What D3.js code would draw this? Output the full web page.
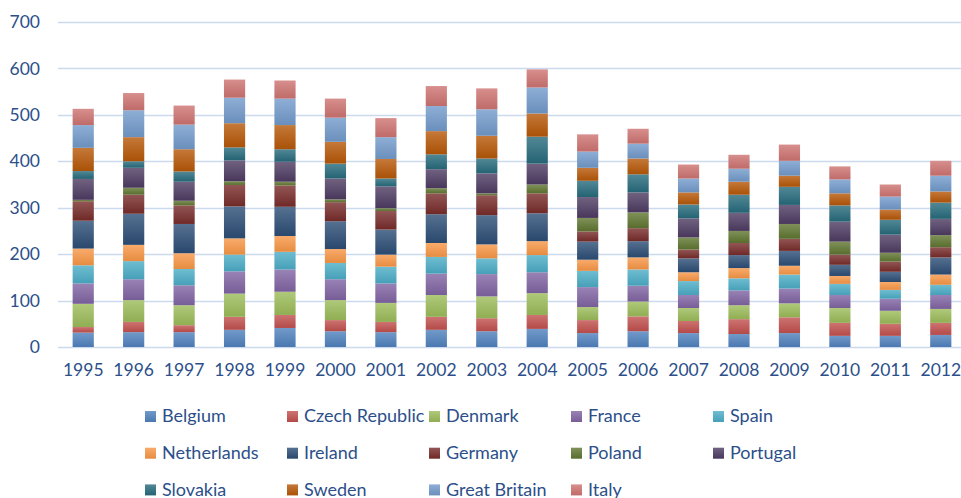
<!DOCTYPE html>
<html>
<head>
<meta charset="utf-8">
<script src="https://d3js.org/d3.v7.min.js"></script>
<style>
  body { margin: 0; background: #fff; }
  svg text { font-family: Lato, "Open Sans", sans-serif; fill: #2c4f8a; }
</style>
</head>
<body>
<div id="chart"></div>
<script>
// years on the x axis
var years = ["1995","1996","1997","1998","1999","2000","2001","2002","2003","2004","2005","2006","2007","2008","2009","2010","2011","2012"]

// one array per country (stack order bottom -> top)
var belgium     = [31, 32, 32, 37, 41, 34, 32, 37, 34, 39, 30, 34, 30, 28, 30, 24, 24, 26]
var czech       = [12, 22, 15, 28, 28, 24, 22, 28, 28, 30, 28, 32, 26, 32, 34, 28, 26, 26]
var denmark     = [50, 47, 43, 50, 50, 43, 41, 47, 47, 47, 28, 32, 28, 30, 30, 32, 28, 30]
var france      = [44, 45, 43, 48, 48, 45, 42, 46, 48, 45, 43, 34, 28, 32, 32, 28, 26, 30]
var spain       = [39, 39, 35, 36, 38, 35, 36, 36, 34, 37, 35, 35, 30, 26, 30, 24, 19, 22]
var netherlands = [36, 35, 34, 35, 34, 30, 26, 30, 30, 30, 24, 26, 19, 22, 19, 17, 17, 22]
var ireland     = [60, 67, 63, 69, 63, 60, 54, 62, 63, 60, 39, 35, 30, 28, 32, 24, 22, 37]
var germany     = [42, 41, 40, 46, 46, 41, 40, 45, 43, 43, 22, 28, 19, 26, 26, 22, 22, 22]
var poland      = [ 3, 15, 10,  8,  8,  6,  6, 11,  4, 19, 29, 34, 26, 26, 32, 28, 19, 26]
var portugal    = [45, 43, 41, 45, 43, 45, 47, 41, 43, 45, 45, 43, 41, 39, 41, 43, 39, 35]
var slovakia    = [17, 14, 22, 28, 27, 32, 17, 32, 32, 58, 35, 39, 30, 39, 39, 35, 32, 35]
var sweden      = [50, 52, 48, 52, 52, 47, 42, 50, 49, 50, 28, 34, 26, 28, 24, 26, 22, 24]
var greatBritain= [49, 58, 53, 55, 57, 52, 47, 54, 57, 56, 35, 32, 30, 28, 32, 30, 28, 34]
var italy       = [35, 37, 41, 39, 39, 41, 41, 43, 45, 39, 37, 32, 30, 30, 35, 28, 26, 32]

var countries = ["Belgium","Czech Republic","Denmark","France","Spain","Netherlands","Ireland","Germany","Poland","Portugal","Slovakia","Sweden","Great Britain","Italy"]
var seriesValues = [belgium, czech, denmark, france, spain, netherlands, ireland, germany, poland, portugal, slovakia, sweden, greatBritain, italy]
var colors = ["#4f81bd","#c0504d","#9bbb59","#8064a2","#4bacc6","#f79646","#2c4d75","#772c2a","#5f7530","#4d3b62","#276a7c","#b65708","#729aca","#cd7371"]
var yTicks = [0, 100, 200, 300, 400, 500, 600, 700]

var width = 961
var height = 498
var margin = {left: 58, top: 22, bottom: 151, right: -5}

var svg = d3.select("#chart")
            .append("svg")
            .attr("width", width)
            .attr("height", height)

// gradients, lighter at the top of each segment
var defs = svg.append("defs")
colors.forEach((c, i) => {
  var g = defs.append("linearGradient")
              .attr("id", "grad" + i)
              .attr("x1", 0).attr("y1", 0).attr("x2", 0).attr("y2", 1)
  g.append("stop").attr("offset", "0%").attr("stop-color", d3.interpolateRgb(c, "#fff")(0.2))
  g.append("stop").attr("offset", "100%").attr("stop-color", d3.color(c).darker(0.2))
})

// table for d3.stack
var table = years.map((y, j) => {
  var row = {year: y}
  countries.forEach((c, i) => row[c] = seriesValues[i][j])
  return row
})
var stacked = d3.stack().keys(countries)(table)

var xScale = d3.scaleBand()
               .domain(years)
               .range([margin.left, width - margin.right])
               .paddingInner(0.58)
               .paddingOuter(0.29)

var yScale = d3.scaleLinear()
               .domain([0, 700])
               .range([height - margin.bottom, margin.top])

// grid lines
svg.append("g")
   .selectAll("line")
   .data(yTicks)
   .enter()
   .append("line")
   .attr("x1", margin.left)
   .attr("x2", width)
   .attr("y1", d => Math.round(yScale(d)) + 0.5)
   .attr("y2", d => Math.round(yScale(d)) + 0.5)
   .style("stroke", "#cbdaee")
   .style("stroke-width", 1.6)

// y axis labels
var yAxis = d3.axisLeft(yScale).tickValues(yTicks).tickSize(0).tickPadding(18)
svg.append("g")
   .attr("transform", "translate(" + margin.left + ",0)")
   .call(yAxis)
   .call(g => g.select(".domain").remove())
   .selectAll("text")
   .style("font-size", "17.5px")
   .style("fill", "#2c4f8a")

// x axis labels
var xAxis = d3.axisBottom(xScale).tickSize(0).tickPadding(17)
svg.append("g")
   .attr("transform", "translate(0," + yScale(0) + ")")
   .call(xAxis)
   .call(g => g.select(".domain").remove())
   .selectAll("text")
   .style("font-size", "17.5px")
   .style("fill", "#2c4f8a")

// stacked bars
svg.append("g")
   .selectAll("g")
   .data(stacked)
   .enter()
   .append("g")
   .attr("fill", (d, i) => "url(#grad" + i + ")")
   .selectAll("rect")
   .data(d => d)
   .enter()
   .append("rect")
   .attr("x", d => xScale(d.data.year))
   .attr("y", d => yScale(d[1]))
   .attr("width", xScale.bandwidth())
   .attr("height", d => yScale(d[0]) - yScale(d[1]))

// legend, 5 columns
var legend = svg.append("g")
var legendX0 = 145, legendDX = 142, legendY0 = 416, legendDY = 36.7
countries.forEach((c, i) => {
  var col = i % 5, row = Math.floor(i / 5)
  var lx = legendX0 + col * legendDX
  var ly = legendY0 + row * legendDY
  legend.append("rect")
        .attr("x", lx).attr("y", ly - 5)
        .attr("width", 11).attr("height", 11)
        .attr("fill", "url(#grad" + i + ")")
  legend.append("text")
        .attr("x", lx + 17).attr("y", ly)
        .attr("dy", "0.36em")
        .style("font-size", "18px")
        .text(c)
})
</script>
</body>
</html>
